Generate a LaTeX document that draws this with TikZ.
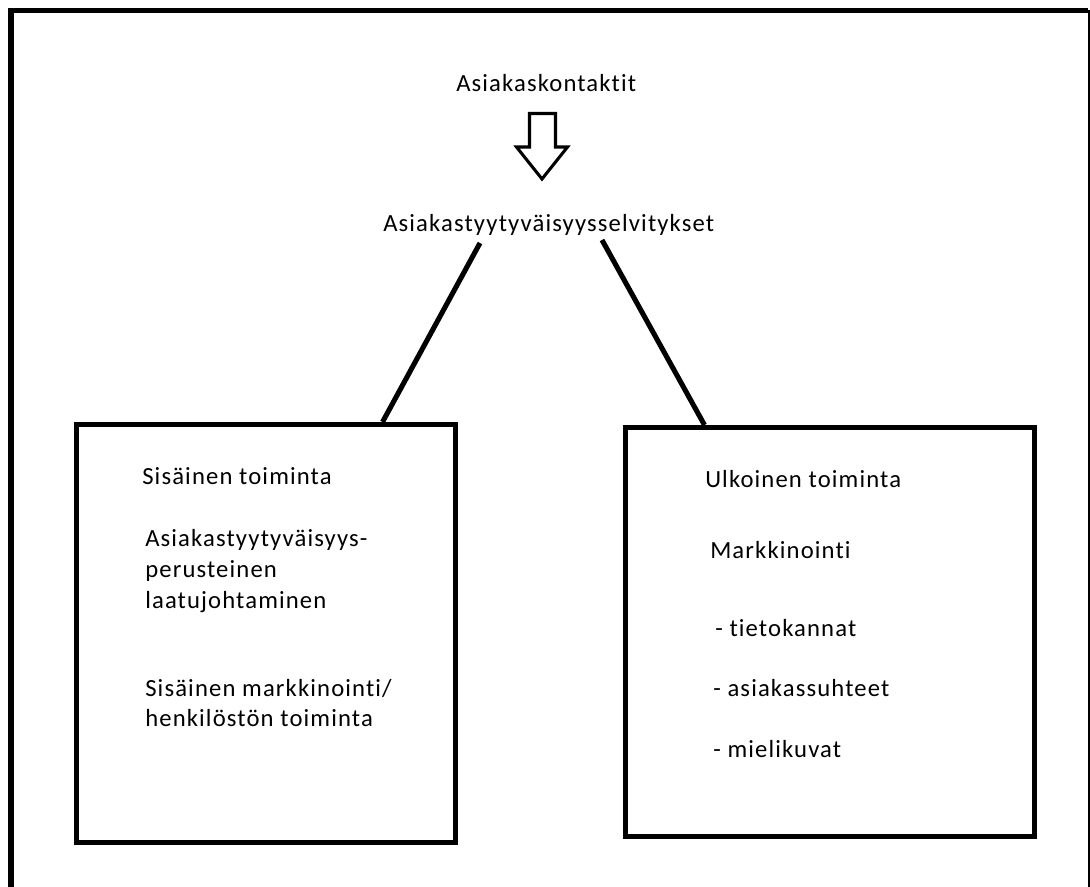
\documentclass[tikz,border=0pt]{standalone}
\usepackage{fontspec}
\setmainfont{Carlito}[LetterSpace=4.6,Ligatures={NoCommon},RawFeature={-liga;-clig;-dlig}]
\usetikzlibrary{calc}
\begin{document}
\begin{tikzpicture}[x=0.75pt,y=-0.75pt,
  txt/.style={anchor=base west, inner sep=0pt, font=\fontsize{18.5}{22}\selectfont},
  frame/.style={line width=4.2pt, line join=miter},
  boxstyle/.style={draw, line width=3.75pt, inner sep=0pt, line join=miter},
  conn/.style={line width=3.8pt},
  blockarrow/.style={draw, line width=2.3pt, line join=miter}]
\useasboundingbox (0,0) rectangle (1090,887);
% outer frame
\draw[frame] (11,887) -- (11,10.5) -- (1088,10.5);
\draw[line width=1.5pt] (1088.7,10.5) -- (1088.7,887);
% top texts
\node[txt] (kont) at (456,92) {Asiakaskontaktit};
\node[txt] (selv) at (383,232) {Asiakastyytyväisyysselvitykset};
% block arrow
\draw[blockarrow] (529.5,113.5) -- (555.5,113.5) -- (555.5,147) -- (567.5,147)
  -- (542,179) -- (516.5,147) -- (529.5,147) -- cycle;
% boxes
\node[boxstyle, minimum width=284.6pt, minimum height=313.5pt] (lbox) at (266.25,633.5) {};
\node[boxstyle, minimum width=306.4pt, minimum height=307.1pt] (rbox) at (829.75,632.25) {};
% connectors
\draw[conn] ($(selv.base west)+(97,11)$) -- ($(lbox.north west)+(308.5,0)$);
\draw[conn] ($(selv.base west)+(219,8)$) -- ($(rbox.north west)+(81.5,0)$);
% left box texts
\node[txt] (l1) at (142,485) {Sisäinen toiminta};
\node[txt] (l2) at (145,547) {Asiakastyytyväisyys-};
\node[txt] (l3) at (145,578) {perusteinen};
\node[txt] (l4) at (145,609) {laatujohtaminen};
\node[txt] (l5) at (145,697) {Sisäinen markkinointi/};
\node[txt] (l6) at (145,727) {henkilöstön toiminta};
% right box texts
\node[txt] (r1) at (705,488) {Ulkoinen toiminta};
\node[txt] (r2) at (710,559) {Markkinointi};
\node[txt] (r3) at (715,637) {- tietokannat};
\node[txt] (r4) at (713,697) {- asiakassuhteet};
\node[txt] (r5) at (713,758) {- mielikuvat};
\end{tikzpicture}
\end{document}
